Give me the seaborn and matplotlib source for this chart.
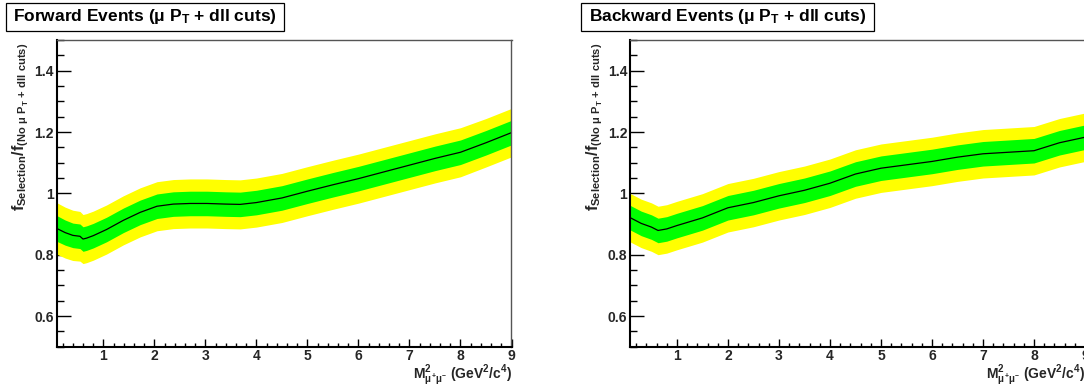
import matplotlib
matplotlib.use('Agg')
import matplotlib.pyplot as plt
import seaborn as sns
from matplotlib.patches import Rectangle
from matplotlib.ticker import MultipleLocator

# ratio f_selection / f_(no cuts) vs M^2
fwd_mass = [0.08, 0.25, 0.4, 0.54, 0.6, 0.67, 0.8, 1.06, 1.39, 1.72, 2.05, 2.37, 2.7, 3.03,
            3.4, 3.68, 4.0, 4.5, 5.0, 5.5, 6.0, 6.5, 7.0, 7.5, 8.0, 8.5, 9.0]
fwd_ratio = [0.886, 0.872, 0.863, 0.860, 0.851, 0.854, 0.862, 0.882, 0.912, 0.938, 0.958, 0.965,
             0.967, 0.967, 0.965, 0.964, 0.970, 0.985, 1.007, 1.028, 1.048, 1.070, 1.092, 1.114,
             1.134, 1.165, 1.198]
fwd_err1 = [0.042, 0.041, 0.040, 0.040, 0.040, 0.040, 0.040, 0.040, 0.040, 0.040, 0.040, 0.040,
            0.040, 0.040, 0.040, 0.040, 0.040, 0.040, 0.040, 0.040, 0.040, 0.040, 0.040, 0.040,
            0.040, 0.040, 0.040]
fwd_err2 = [0.084, 0.083, 0.082, 0.081, 0.080, 0.080, 0.080, 0.080, 0.080, 0.080, 0.080, 0.080,
            0.080, 0.080, 0.080, 0.080, 0.080, 0.080, 0.080, 0.080, 0.080, 0.080, 0.080, 0.080,
            0.080, 0.079, 0.079]

bwd_mass = [0.08, 0.3, 0.5, 0.63, 0.8, 1.0, 1.5, 2.0, 2.5, 3.0, 3.5, 4.0, 4.5, 5.0, 5.5, 6.0,
            6.5, 7.0, 7.5, 8.0, 8.5, 9.0]
bwd_ratio = [0.921, 0.902, 0.890, 0.879, 0.884, 0.895, 0.920, 0.953, 0.970, 0.992, 1.010, 1.033,
             1.063, 1.082, 1.093, 1.104, 1.118, 1.129, 1.134, 1.139, 1.165, 1.183]
bwd_err1 = [0.040, 0.040, 0.040, 0.040, 0.040, 0.040, 0.040, 0.040, 0.040, 0.040, 0.040, 0.040,
            0.040, 0.040, 0.040, 0.040, 0.040, 0.040, 0.040, 0.040, 0.040, 0.040]
bwd_err2 = [0.079, 0.079, 0.079, 0.079, 0.079, 0.079, 0.079, 0.079, 0.079, 0.079, 0.079, 0.079,
            0.079, 0.079, 0.079, 0.079, 0.079, 0.079, 0.079, 0.079, 0.079, 0.079]

yticks = [0.6, 0.8, 1.0, 1.2, 1.4]
ytick_labels = ['0.6', '0.8', '1', '1.2', '1.4']
xticks = [1, 2, 3, 4, 5, 6, 7, 8, 9]
xtick_labels = ['1', '2', '3', '4', '5', '6', '7', '8', '9']

titles = ['Forward Events ($\\mu$ P$_{\\mathbf{T}}$ + dll cuts)',
          'Backward Events ($\\mu$ P$_{\\mathbf{T}}$ + dll cuts)']
ylab = (r'$\mathbf{f}_{\mathbf{Selection}}/\mathbf{f}_{\mathbf{(No}\ \mu\ '
        r'\mathbf{P}_{\mathbf{T}}\ \mathbf{+\ dll\ cuts)}}$')
xlab = r'$\mathbf{M}^{\mathbf{2}}_{\mu^{+}\mu^{-}}$ (GeV$^{\mathbf{2}}$/c$^{\mathbf{4}}$)'

sns.set_theme(style='white')
plt.rcParams['font.family'] = ['Liberation Sans', 'DejaVu Sans']
plt.rcParams['font.weight'] = 'bold'
plt.rcParams['mathtext.fontset'] = 'custom'
plt.rcParams['mathtext.rm'] = 'Liberation Sans:bold'
plt.rcParams['mathtext.bf'] = 'Liberation Sans:bold'
plt.rcParams['mathtext.it'] = 'Liberation Sans'

W, H = 1084, 385
fig = plt.figure(figsize=(W / 100, H / 100), dpi=100)
fig.patch.set_facecolor('white')


def draw_panel(left_px, mass, ratio, err1, err2, title, box):
    ax = fig.add_axes([left_px / W, 1 - 346.7 / H, 455 / W, 306.7 / H])
    ax.set_facecolor('white')
    lo2 = [r - e for r, e in zip(ratio, err2)]
    hi2 = [r + e for r, e in zip(ratio, err2)]
    lo1 = [r - e for r, e in zip(ratio, err1)]
    hi1 = [r + e for r, e in zip(ratio, err1)]
    ax.fill_between(mass, lo2, hi2, color='#ffff00', lw=0)
    ax.fill_between(mass, lo1, hi1, color='#00ff00', lw=0)
    sns.lineplot(x=mass, y=ratio, ax=ax, color='black', linewidth=0.9)

    ax.set_xlim(0.08, 9)
    ax.set_ylim(0.5, 1.5)
    ax.set_xticks(xticks, xtick_labels)
    ax.set_yticks(yticks, ytick_labels)
    ax.xaxis.set_minor_locator(MultipleLocator(0.2))
    ax.yaxis.set_minor_locator(MultipleLocator(0.05))
    ax.tick_params(axis='y', which='major', direction='in', length=10, width=1.0,
                   labelsize=10, pad=2, left=True, color='black')
    ax.tick_params(axis='y', which='minor', direction='in', length=5, width=1.0,
                   left=True, color='black')
    ax.tick_params(axis='x', which='major', direction='in', length=6, width=1.0,
                   labelsize=10, pad=2, bottom=True, color='black')
    ax.tick_params(axis='x', which='minor', direction='in', length=3, width=1.0,
                   bottom=True, color='black')
    for lab in ax.get_xticklabels() + ax.get_yticklabels():
        lab.set_fontweight('bold')

    for s in ['left', 'bottom']:
        ax.spines[s].set_linewidth(1.5)
        ax.spines[s].set_color('black')
    for s in ['top', 'right']:
        ax.spines[s].set_linewidth(1.0)
        ax.spines[s].set_color('#555555')

    ax.set_ylabel(ylab, fontsize=11.5, loc='top')
    ax.yaxis.set_label_coords(-0.056, 0.99)
    ax.set_xlabel(xlab, fontsize=10, fontweight='bold', loc='right')
    ax.xaxis.set_label_coords(1.0, -0.05)

    x0, x1 = box
    fig.add_artist(Rectangle((x0 / W, 1 - 30.7 / H), (x1 - x0) / W, 27.4 / H,
                             transform=fig.transFigure, fill=True, fc='white',
                             ec='black', lw=0.9))
    fig.text((x0 + x1) / 2 / W, 1 - 20.5 / H, title, ha='center', va='baseline',
             fontsize=12.5, fontweight='bold', color='black')
    return ax


draw_panel(56.5, fwd_mass, fwd_ratio, fwd_err1, fwd_err2, titles[0], (6, 284))
draw_panel(630, bwd_mass, bwd_ratio, bwd_err1, bwd_err2, titles[1], (581, 874))

fig.savefig('out.png', dpi=100)
